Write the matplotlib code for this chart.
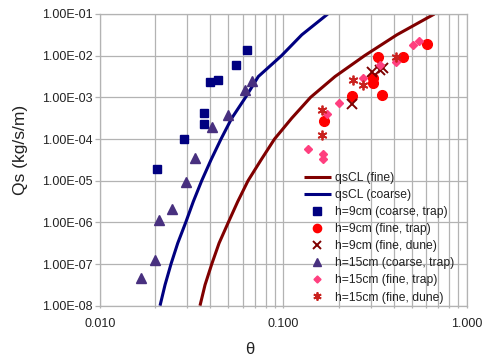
import matplotlib
matplotlib.use("Agg")
import matplotlib.pyplot as plt
from matplotlib.ticker import LogLocator, NullFormatter, FixedLocator, FixedFormatter

plt.rcParams['font.family'] = ['Liberation Sans', 'DejaVu Sans']

# ---- model curves ----
curve_fine_theta = [0.0351, 0.0374, 0.0407, 0.0446, 0.0501, 0.0564, 0.0642, 0.0756,
                    0.0895, 0.1111, 0.1407, 0.1914, 0.2773, 0.4157, 0.6665]
curve_fine_qs = [1e-8, 3.16e-8, 1e-7, 3.16e-7, 1e-6, 3.16e-6, 1e-5, 3.16e-5,
                 1e-4, 3.16e-4, 1e-3, 3.16e-3, 1e-2, 3.16e-2, 1e-1]
curve_coarse_theta = [0.02125, 0.02263, 0.02439, 0.02654, 0.02935, 0.03228, 0.03587, 0.04031,
                      0.04571, 0.05231, 0.0622, 0.07305, 0.0977, 0.1260, 0.1747]
curve_coarse_qs = curve_fine_qs

# ---- measured data ----
h9_coarse_trap_theta = [0.0204, 0.0288, 0.0371, 0.0371, 0.0400, 0.0442, 0.0549, 0.0637]
h9_coarse_trap_qs = [1.88e-5, 1.0e-4, 2.27e-4, 4.32e-4, 2.33e-3, 2.67e-3, 6.1e-3, 1.39e-2]

h9_fine_trap_theta = [0.167, 0.236, 0.3075, 0.3075, 0.3275, 0.347, 0.452, 0.608]
h9_fine_trap_qs = [2.68e-4, 1.06e-3, 2.9e-3, 2.2e-3, 9.3e-3, 1.12e-3, 9.3e-3, 1.86e-2]

h9_fine_dune_theta = [0.236, 0.305, 0.335, 0.350]
h9_fine_dune_qs = [7.1e-4, 4.1e-3, 4.5e-3, 5.0e-3]

h15_coarse_trap_theta = [0.01667, 0.01995, 0.0211, 0.0246, 0.0295, 0.0330, 0.0407, 0.0498, 0.0618, 0.0673]
h15_coarse_trap_qs = [4.62e-8, 1.27e-7, 1.15e-6, 2.07e-6, 9.17e-6, 3.44e-5, 1.96e-4, 3.73e-4, 1.48e-3, 2.43e-3]

h15_fine_trap_theta = [0.137, 0.164, 0.164, 0.174, 0.201, 0.271, 0.337, 0.412, 0.508, 0.550]
h15_fine_trap_qs = [5.64e-5, 4.36e-5, 3.36e-5, 4.09e-4, 7.5e-4, 2.91e-3, 5.86e-3, 7.0e-3, 1.76e-2, 2.24e-2]

h15_fine_dune_theta = [0.162, 0.162, 0.241, 0.271, 0.410]
h15_fine_dune_qs = [4.91e-4, 1.24e-4, 2.67e-3, 1.95e-3, 9.27e-3]

x_ticks = [0.01, 0.1, 1.0]
x_tick_labels = ['0.010', '0.100', '1.000']
y_ticks = [1e-8, 1e-7, 1e-6, 1e-5, 1e-4, 1e-3, 1e-2, 1e-1]
y_tick_labels = ['1.00E-08', '1.00E-07', '1.00E-06', '1.00E-05',
                 '1.00E-04', '1.00E-03', '1.00E-02', '1.00E-01']

fig = plt.figure(figsize=(4.88, 3.58), dpi=100)
ax = fig.add_axes([100/488, 1-305.7/358, 366.7/488, 291.7/358])
ax.set_xscale('log')
ax.set_yscale('log')
ax.set_xlim(0.01, 1.0)
ax.set_ylim(1e-8, 1e-1)

grid_c = '#b3b3b3'
ax.xaxis.set_major_locator(FixedLocator(x_ticks))
ax.xaxis.set_major_formatter(FixedFormatter(x_tick_labels))
ax.xaxis.set_minor_locator(LogLocator(base=10, subs=range(2, 10)))
ax.xaxis.set_minor_formatter(NullFormatter())
ax.yaxis.set_major_locator(FixedLocator(y_ticks))
ax.yaxis.set_major_formatter(FixedFormatter(y_tick_labels))
ax.yaxis.set_minor_locator(FixedLocator([]))
ax.grid(True, which='major', axis='both', color=grid_c, linewidth=0.9)
ax.grid(True, which='minor', axis='x', color=grid_c, linewidth=0.9)
ax.set_axisbelow(True)
for s in ax.spines.values():
    s.set_color(grid_c)
    s.set_linewidth(0.9)

ax.tick_params(axis='y', which='major', length=3.5, pad=1.5, color=grid_c,
               labelsize=9, labelcolor='#222222', width=0.9)
ax.tick_params(axis='x', which='both', length=1.5, pad=7, color=grid_c,
               labelsize=9, labelcolor='#222222', width=0.9)

ax.plot(curve_fine_theta, curve_fine_qs, color='#800000', lw=2.2, label='qsCL (fine)',
        solid_capstyle='butt', clip_on=True)
ax.plot(curve_coarse_theta, curve_coarse_qs, color='#000080', lw=2.2, label='qsCL (coarse)',
        solid_capstyle='butt', clip_on=True)

ax.plot(h9_coarse_trap_theta, h9_coarse_trap_qs, ls='none', marker='s', ms=6,
        color='#000080', label='h=9cm (coarse, trap)')
ax.plot(h9_fine_trap_theta, h9_fine_trap_qs, ls='none', marker='o', ms=7,
        color='#ff0000', label='h=9cm (fine, trap)')
ax.plot(h9_fine_dune_theta, h9_fine_dune_qs, ls='none', marker='x', ms=6.5, mew=1.4,
        color='#7f0000', label='h=9cm (fine, dune)')
ax.plot(h15_coarse_trap_theta, h15_coarse_trap_qs, ls='none', marker='^', ms=7,
        color='#48307f', label='h=15cm (coarse, trap)')
ax.plot(h15_fine_trap_theta, h15_fine_trap_qs, ls='none', marker='D', ms=4.2,
        color='#ff3f7f', label='h=15cm (fine, trap)')
ax.plot(h15_fine_dune_theta, h15_fine_dune_qs, ls='none', marker=(6, 2, 0), ms=7, mew=1.3,
        color='#c9211e', label='h=15cm (fine, dune)')

leg = ax.legend(loc='upper left', bbox_to_anchor=(304/488, 1-172/358),
                bbox_transform=fig.transFigure, frameon=False, fontsize=8.7,
                borderpad=0, borderaxespad=0, handlelength=2.2, handletextpad=0.35,
                labelspacing=0.42, markerscale=0.85)
for t in leg.get_texts():
    t.set_color('#222222')

fig.text(20.5/488, 1-150/358, 'Qs (kg/s/m)', rotation=90, ha='center', va='center',
         fontsize=12.5, color='#222222')
fig.text(250/488, 1-350/358, 'θ', ha='center', va='center', fontsize=12, color='#222222')

fig.savefig('out.png', dpi=100)
